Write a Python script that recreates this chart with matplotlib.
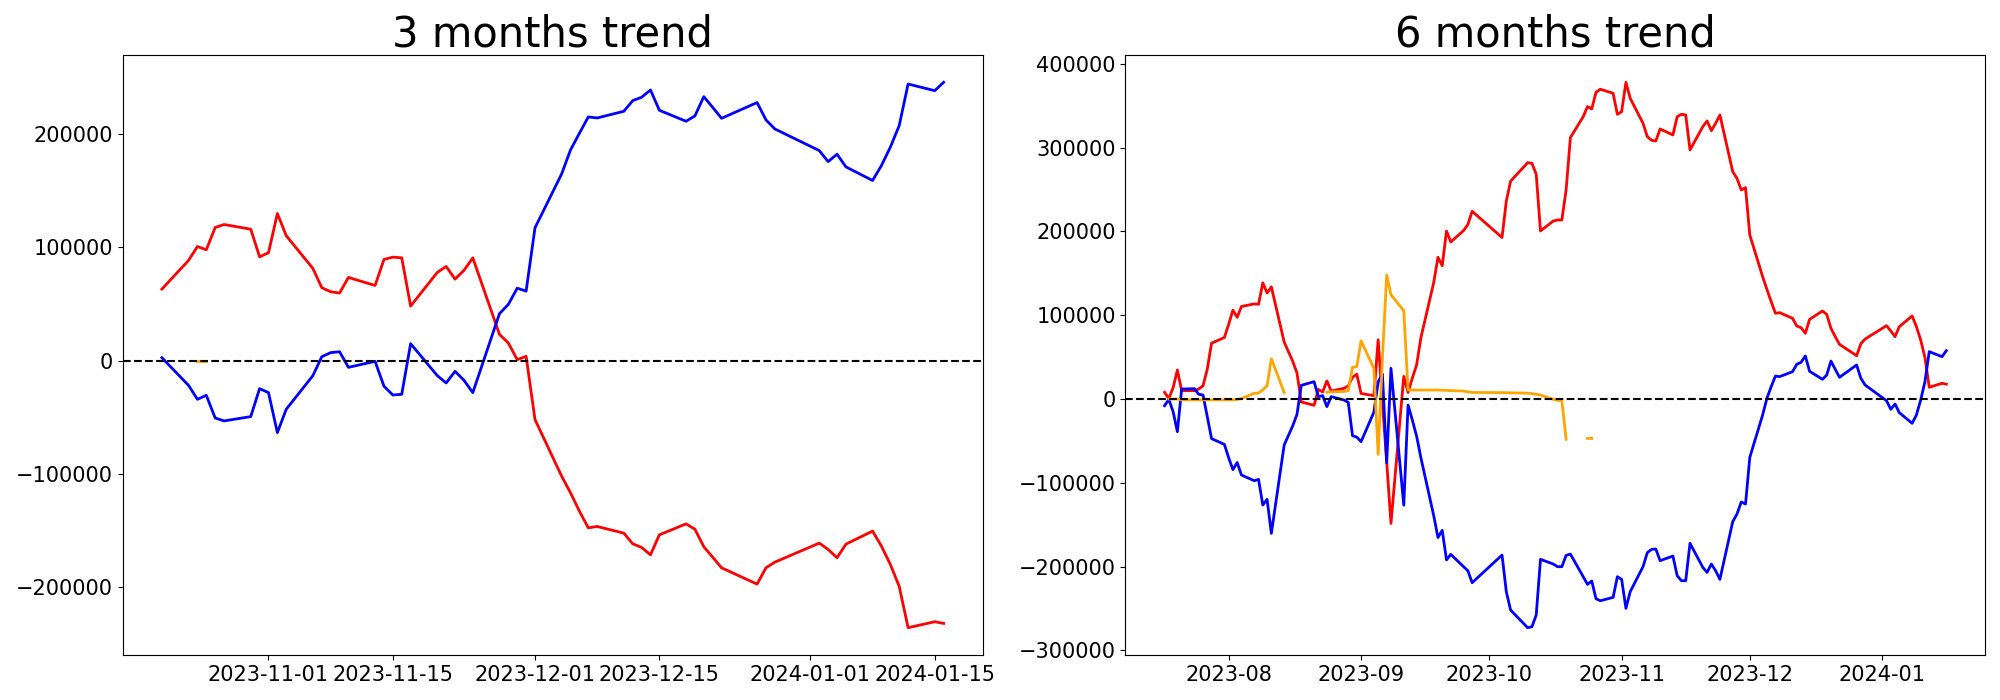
#!/usr/bin/env python3
# -*- coding: utf-8 -*-
"""
Net buying trend by investor type (3 and 6 months)
"""

import matplotlib
matplotlib.use('Agg')
import matplotlib.pyplot as plt
import matplotlib.dates as mdates
import numpy as np
import pandas as pd

nan = np.nan

# trading calendar: weekdays without the exchange holidays
holidays = ['2023-08-15', '2023-09-28', '2023-09-29', '2023-10-02', '2023-10-03',
            '2023-10-09', '2023-12-25', '2023-12-29', '2024-01-01']
dias_6m = pd.bdate_range('2023-07-17', '2024-01-16', freq='C', holidays=holidays)
dias_3m = pd.bdate_range('2023-10-20', '2024-01-16', freq='C', holidays=holidays)

#%% 3 months --------------------------------------------------------------
red_3m = [63200, 88500, 100800, 97900, 117600, 120200, 116100, 91700, 95300, 129900,
          110300, 81400, 64400, 60900, 59700, 73500, 66400, 89400, 91400, 90800,
          48200, 77900, 83200, 72000, 79700, 90800, 23200, 15600, 900, 3800,
          -52000, -102000, -116700, -132900, -147600, -146400, -152300, -161700, -164900, -171400,
          -153800, -144100, -148800, -164300, -173500, -182900, -197300, -182900, -177900, -161100,
          -166700, -174000, -162000, -150500, -163800, -179900, -199300, -235800, -230500, -232000]

blue_3m = [2600, -21800, -34100, -30600, -50600, -53200, -49400, -24700, -28200, -63500,
           -42900, -13200, 3500, 7100, 7900, -5900, -600, -22600, -30300, -29700,
           15000, -13200, -19700, -9400, -17300, -28200, 41500, 49700, 64000, 61400,
           117300, 164900, 186100, 200800, 215200, 214300, 220200, 229600, 232600, 239000,
           221100, 211400, 216100, 233100, 223700, 214000, 227900, 212600, 204600, 185500,
           175800, 182300, 171100, 159100, 172300, 188500, 207600, 244300, 238400, 245800]

orange_3m = [nan, nan, 0, 0] + [nan] * 56

#%% 6 months --------------------------------------------------------------
red_6m = [8000, 500, 13500, 34600, 10000, 10000, 12000, 15700, 35600, 66600,
          73400, 89000, 106000, 97500, 110400, 113500, 113000, 138600, 126500, 133800,
          68000, 45000, 31000, -3500, -7500, 11400, 8400, 21600, 9500, 12800,
          15600, 26000, 29600, 6600, 4000, 70700, -5000, -75000, -148400, 27000,
          7800, 25000, 40600, 73000, 138800, 169100, 159100, 200400, 187400, 201000,
          208200, 224000, 192700, 236100, 259900, 282000, 281200, 268100, 200500, 212400,
          213600, 213600, 249400, 311900, 336900, 348900, 346100, 366000, 369600, 364800,
          339700, 342900, 377900, 358800, 329000, 313100, 308700, 307900, 322200, 315100,
          336900, 339700, 338900, 297200, 325000, 331800, 320200, 329000, 338900, 271300,
          263300, 249400, 252200, 195700, 146000, 130900, 116200, 102300, 103000, 96300,
          87100, 85100, 78400, 95100, 105000, 101000, 84300, 74400, 65200, 51700,
          66000, 71600, 87500, 81200, 74400, 86300, 99100, 86300, 70400, 49500,
          14000, 18700, 17700]

blue_6m = [-8000, -400, -15100, -39000, 11900, 12300, 5600, 4800, -21000, -47300,
           -54100, -70000, -84300, -75800, -90700, -97500, -95900, -126500, -119700, -160300,
           -54900, -32000, -18300, 16300, 20700, 2800, 4000, -9100, 2800, -1200,
           -4000, -43800, -45500, -50900, -15700, 20700, 29800, -76000, 36600, -126700,
           -7200, -25100, -44200, -70000, -139000, -165300, -156700, -192000, -185400, -200100,
           -204900, -219200, -186200, -229900, -251800, -272900, -271700, -257800, -191300, -196900,
           -200100, -200100, -186600, -185000, -212000, -221200, -217200, -238300, -240700, -236700,
           -212000, -215200, -249800, -229900, -200100, -183400, -179400, -179000, -192900, -187400,
           -210800, -216800, -216800, -172200, -200900, -206900, -196900, -204900, -215200, -146400,
           -137200, -122900, -125300, -69600, -19100, 800, 14700, 27400, 26700, 32600,
           41400, 43800, 51300, 33000, 23500, 28600, 45300, 35400, 25900, 40600,
           24700, 16700, -2000, -12300, -6000, -16300, -29000, -19100, -1200, 20700,
           56500, 50500, 57700]

orange_6m = ([nan, 0, 0, 0, -1000, -1000, -1000, -1000, -1000, -1000,
              -1000, -1000, -1000, -500, 500, 6900, 7000, 10900, 15800, 48000,
              7900, nan, nan, nan, nan, nan, nan, 8000, 8500, 9000,
              9900, 37800, 38600, 69400, 36600, -66000, 49000, 148000, 124300, 105400,
              10700, 10700, 10700, 10700, 10700, 10700, 10500, 10300, 10000, 9500,
              8500, 7800, 7600, 7500, 7400, 7000, 6500, 5500, 4800, -400,
              -1500, -2000, -48000, nan, nan, -47000, -47000] + [nan] * 56)

#%% gráfico ---------------------------------------------------------------
fig, (ax1, ax2) = plt.subplots(1, 2, figsize=(20, 7), dpi=100)
fig.subplots_adjust(left=0.0614, right=0.9927, bottom=0.0643, top=0.9214, wspace=0.166)

paineis = [(ax1, dias_3m, red_3m, blue_3m, orange_3m, '3 months trend'),
           (ax2, dias_6m, red_6m, blue_6m, orange_6m, '6 months trend')]

for ax, dias, r, b, o, titulo in paineis:
    ax.plot(dias, r, color='red', linewidth=2)
    ax.plot(dias, b, color='blue', linewidth=2)
    ax.plot(dias, o, color='orange', linewidth=2)
    ax.axhline(0, color='black', linestyle='--', linewidth=1.5)
    ax.set_title(titulo, fontsize=30)
    ax.tick_params(labelsize=15)

ax1.xaxis.set_major_locator(mdates.DayLocator(bymonthday=[1, 15]))
ax1.xaxis.set_major_formatter(mdates.DateFormatter('%Y-%m-%d'))
ax2.xaxis.set_major_locator(mdates.MonthLocator())
ax2.xaxis.set_major_formatter(mdates.DateFormatter('%Y-%m'))

plt.savefig('out.png', dpi=100)
